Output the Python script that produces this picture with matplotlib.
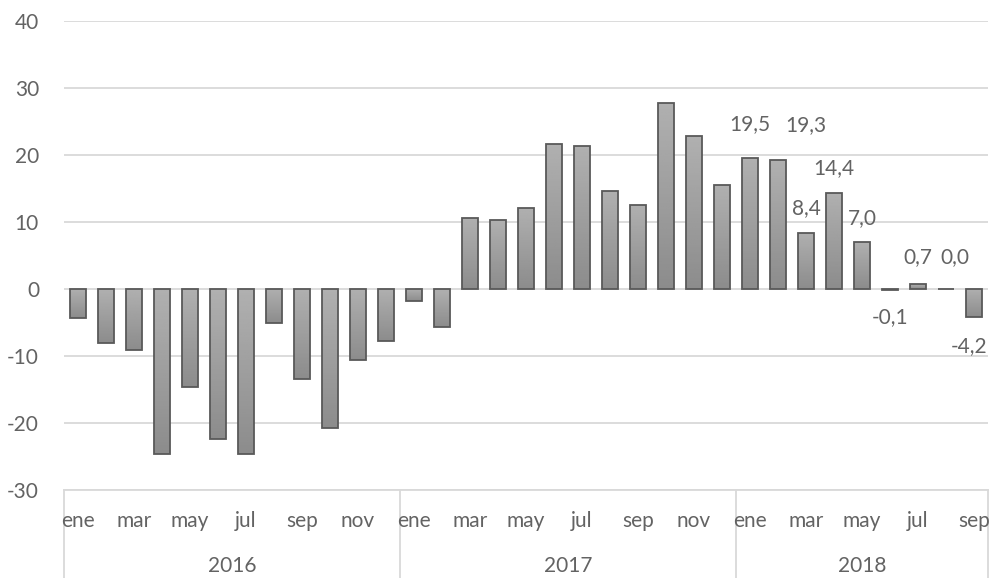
# Variación interanual mensual, barras con etiquetas en los últimos meses
import matplotlib.pyplot as plt
import matplotlib.transforms as mtransforms
import numpy as np

plt.rcParams['font.family'] = ['Lato', 'DejaVu Sans']
plt.rcParams['axes.unicode_minus'] = False

years = ['2016', '2017', '2018']
months = ['ene', 'feb', 'mar', 'abr', 'may', 'jun', 'jul', 'ago', 'sep', 'oct', 'nov', 'dic']
values_2016 = [-4.4, -8.0, -9.1, -24.6, -14.7, -22.4, -24.6, -5.1, -13.5, -20.7, -10.6, -7.8]
values_2017 = [-1.8, -5.6, 10.6, 10.3, 12.1, 21.6, 21.3, 14.7, 12.6, 27.8, 22.8, 15.5]
values_2018 = [19.5, 19.3, 8.4, 14.4, 7.0, -0.1, 0.7, 0.0, -4.2]
labelled_from = 24  # solo 2018 lleva etiquetas
# desplazamiento (px) del centro de cada etiqueta respecto al extremo de la barra
label_offsets = [(0, 34), (28, 35), (0, 25), (0, 24), (0, 24), (0, -27), (0, 27), (9, 32), (-5, -29)]

values = values_2016 + values_2017 + values_2018
per_year = [len(values_2016), len(values_2017), len(values_2018)]
x_labels = [months[i % 12] for i in range(len(values))]

text_color = '#636363'
grid_color = '#d9d9d9'
fs = 15

fig = plt.figure(figsize=(9.9, 5.78), dpi=100)
ax = fig.add_axes([64 / 990, 88 / 578, 924 / 990, 469 / 578])

x = np.arange(len(values))
bars = ax.bar(x, values, width=0.54, color='none', edgecolor='#595959', linewidth=1.3, zorder=3)

# relleno degradado (claro arriba, oscuro abajo)
grad = np.linspace(0.69, 0.55, 64).reshape(-1, 1)
for b in bars:
    x0, y0 = b.get_x(), b.get_y()
    w, h = b.get_width(), b.get_height()
    lo, hi = min(y0, y0 + h), max(y0, y0 + h)
    im = ax.imshow(grad, cmap='gray', vmin=0, vmax=1, aspect='auto',
                   extent=(x0, x0 + w, lo, hi), origin='upper', zorder=2)
    im.set_clip_path(b)

ax.set_xlim(-0.5, len(values) - 0.5)
ax.set_ylim(-30, 40)
ax.set_yticks(range(-30, 41, 10))
ax.tick_params(axis='y', length=0, pad=18, labelsize=fs, labelcolor=text_color)
ax.grid(axis='y', color=grid_color, linewidth=1.3, zorder=0)
ax.set_xticks([])
for s in ['top', 'right', 'left']:
    ax.spines[s].set_visible(False)
ax.spines['bottom'].set_color(grid_color)
ax.spines['bottom'].set_linewidth(1.3)

# etiquetas de datos
for k, i in enumerate(range(labelled_from, len(values))):
    v = values[i]
    txt = f'{v:.1f}'.replace('.', ',')
    ax.annotate(txt, (x[i], v), xytext=label_offsets[k], textcoords='offset pixels',
                ha='center', va='center', fontsize=fs, color=text_color)

# eje de categorías de dos niveles
trans = mtransforms.blended_transform_factory(ax.transData, ax.transAxes)
for i in range(0, len(values), 2):
    ax.text(x[i], -0.066, x_labels[i], transform=trans, ha='center', va='center',
            fontsize=fs, color=text_color)

start = 0
bounds = [-0.5]
for yr, n in zip(years, per_year):
    ax.text(start + (n - 1) / 2, -0.162, yr, transform=trans, ha='center', va='center',
            fontsize=fs, color=text_color)
    start += n
    bounds.append(start - 0.5)
for bx in bounds:
    ax.plot([bx, bx], [0, -0.19], transform=trans, color=grid_color, linewidth=1.3, clip_on=False)

fig.savefig('out.png', dpi=100)
